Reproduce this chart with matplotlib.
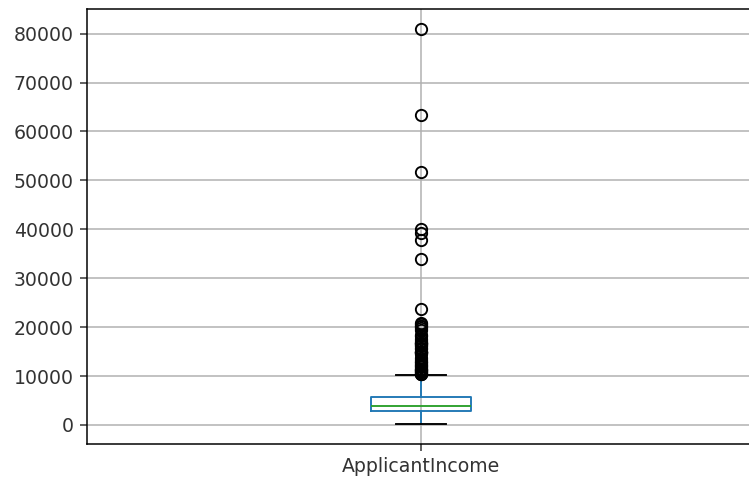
import matplotlib
matplotlib.use('Agg')
import matplotlib.pyplot as plt

# summary of the ApplicantIncome column
label = 'ApplicantIncome'
q1 = 2877.5
median = 3812.5
q3 = 5795.0
whisker_low = 150
whisker_high = 10171
outliers = [12841, 12500, 11500, 10750, 13650, 11417, 14583, 10408, 23803, 10513,
            20166, 14999, 11757, 14866, 39999, 51763, 33846, 39147, 12000, 11000,
            16250, 14683, 11146, 20233, 15000, 63337, 19730, 15759, 81000, 14880,
            12876, 10416, 37719, 16692, 16525, 16667, 10833, 18333, 17263, 20667,
            11250, 18165, 19484, 16666, 16120, 12173, 17500, 13262, 20833, 15500]

stats = [{'label': label, 'q1': q1, 'med': median, 'q3': q3,
          'whislo': whisker_low, 'whishi': whisker_high, 'fliers': outliers}]

# the picture is a scaled-up crop, so use a higher dpi
dpi = 136
fig, ax = plt.subplots(figsize=(749 / dpi, 479 / dpi), dpi=dpi)
fig.subplots_adjust(left=87 / 749, right=755 / 749, bottom=35 / 479, top=470 / 479)

ax.bxp(stats, widths=0.15,
       boxprops=dict(color='C0'),
       whiskerprops=dict(color='C0'),
       medianprops=dict(color='C2'),
       capprops=dict(color='k'),
       flierprops=dict(marker='o', markerfacecolor='none', markeredgecolor='k'))
ax.grid(True, color='#b0b0b0', linewidth=0.8)
ax.set_axisbelow(True)
ax.tick_params(colors='#333333', labelcolor='#333333')

fig.savefig('out.png', dpi=dpi)
